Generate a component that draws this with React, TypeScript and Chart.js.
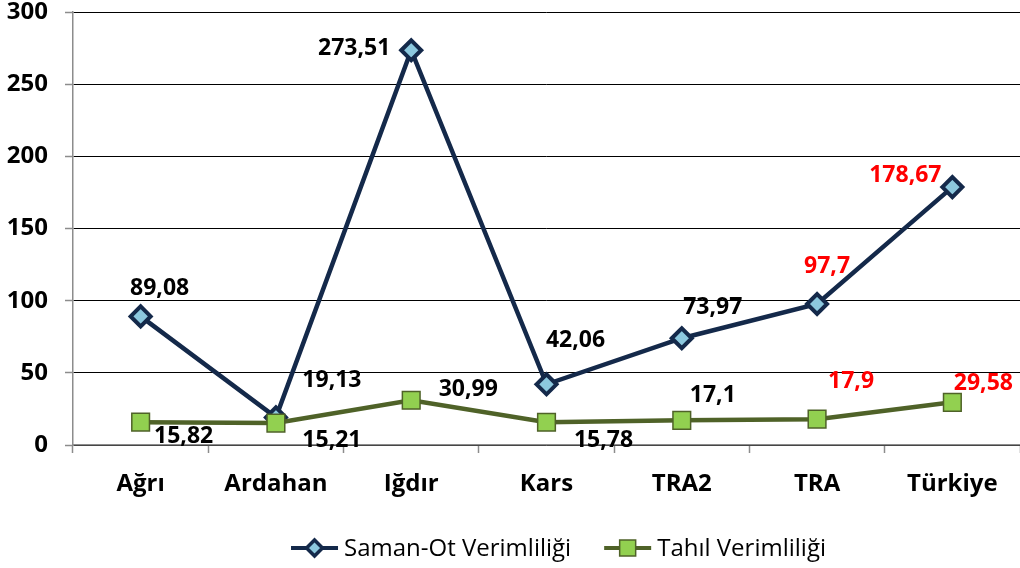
import React, { useEffect, useRef } from "react";
import { Chart, registerables } from "chart.js";

Chart.register(...registerables);

const categories = ["Ağrı", "Ardahan", "Iğdır", "Kars", "TRA2", "TRA", "Türkiye"];
const samanOt = [89.08, 19.13, 273.51, 42.06, 73.97, 97.7, 178.67];
const tahil = [15.82, 15.21, 30.99, 15.78, 17.1, 17.9, 29.58];
const seriesNames = ["Saman-Ot Verimliliği", "Tahıl Verimliliği"];
const redLabel = [false, false, false, false, false, true, true];

// label placement (offset from point, px)
const samanOffsets: [number, number][] = [
  [19, -28], [56, -37], [-57, -2], [29, -44], [31, -31], [10, -38], [-47, -12],
];
const tahilOffsets: [number, number][] = [
  [43, 14], [56, 17], [57, -11], [57, 18], [31, -25], [34, -38], [31, -19],
];

const FONT = '"Open Sans", "DejaVu Sans", sans-serif';
const NAVY = "#14294A";
const NAVY_FILL = "#8CC8DE";
const OLIVE = "#4F6228";
const GREEN = "#92D050";
const AXIS_GRAY = "#8C8C8C";

const fmt = (v: number) => String(v).replace(".", ",");

const labelPlugin = {
  id: "valueLabels",
  afterDatasetsDraw(chart: any) {
    const ctx = chart.ctx;
    ctx.save();
    ctx.font = `bold 23px ${FONT}`;
    ctx.textAlign = "center";
    ctx.textBaseline = "middle";
    chart.data.datasets.forEach((ds: any, di: number) => {
      const meta = chart.getDatasetMeta(di);
      const offs = di === 0 ? samanOffsets : tahilOffsets;
      meta.data.forEach((pt: any, i: number) => {
        ctx.fillStyle = redLabel[i] ? "#FF0000" : "#000000";
        ctx.fillText(fmt(ds.data[i]), pt.x + offs[i][0], pt.y + offs[i][1]);
      });
    });
    ctx.restore();
  },
};

function drawMarker(ctx: CanvasRenderingContext2D, kind: number, cx: number, cy: number) {
  if (kind === 0) {
    const r = 8;
    ctx.beginPath();
    ctx.moveTo(cx, cy - r);
    ctx.lineTo(cx + r, cy);
    ctx.lineTo(cx, cy + r);
    ctx.lineTo(cx - r, cy);
    ctx.closePath();
    ctx.fillStyle = NAVY_FILL;
    ctx.fill();
    ctx.lineWidth = 3.5;
    ctx.strokeStyle = NAVY;
    ctx.stroke();
  } else {
    const s = 16;
    ctx.fillStyle = GREEN;
    ctx.fillRect(cx - s / 2, cy - s / 2, s, s);
    ctx.lineWidth = 1.5;
    ctx.strokeStyle = OLIVE;
    ctx.strokeRect(cx - s / 2, cy - s / 2, s, s);
  }
}

const legendPlugin = {
  id: "customLegend",
  afterDraw(chart: any) {
    const ctx = chart.ctx;
    const area = chart.chartArea;
    ctx.save();
    ctx.font = `24px ${FONT}`;
    ctx.textBaseline = "middle";
    ctx.textAlign = "left";
    const markerW = 47;
    const gapText = 6;
    const gapItem = 33;
    const widths = seriesNames.map((n) => markerW + gapText + ctx.measureText(n).width);
    const total = widths.reduce((a, b) => a + b, 0) + gapItem;
    let x = (area.left + area.right) / 2 + 12 - total / 2;
    const y = 548;
    seriesNames.forEach((name, i) => {
      ctx.beginPath();
      ctx.moveTo(x, y);
      ctx.lineTo(x + markerW, y);
      ctx.lineWidth = 4;
      ctx.strokeStyle = i === 0 ? NAVY : OLIVE;
      ctx.stroke();
      drawMarker(ctx, i, x + markerW / 2, y);
      ctx.fillStyle = "#000";
      ctx.fillText(name, x + markerW + gapText, y + 1);
      x += widths[i] + gapItem;
    });
    ctx.restore();
  },
};

export default function App() {
  const ref = useRef<HTMLCanvasElement | null>(null);

  useEffect(() => {
    if (!ref.current) return;
    const chart = new Chart(ref.current, {
      type: "line",
      data: {
        labels: categories,
        datasets: [
          {
            label: seriesNames[0],
            data: samanOt,
            borderColor: NAVY,
            borderWidth: 4.5,
            pointStyle: "rectRot",
            pointRadius: 10,
            pointBorderWidth: 4,
            pointBackgroundColor: NAVY_FILL,
            pointBorderColor: NAVY,
            tension: 0,
            order: 2,
            clip: false,
          },
          {
            label: seriesNames[1],
            data: tahil,
            borderColor: OLIVE,
            borderWidth: 4.5,
            pointStyle: "rect",
            pointRadius: 12.5,
            pointBorderWidth: 1.5,
            pointBackgroundColor: GREEN,
            pointBorderColor: OLIVE,
            tension: 0,
            order: 1,
            clip: false,
          },
        ],
      },
      options: {
        responsive: false,
        animation: false,
        layout: { autoPadding: false, padding: { top: 12, left: 0, right: 0, bottom: 0 } },
        plugins: {
          legend: { display: false },
          tooltip: { enabled: false },
        },
        scales: {
          x: {
            offset: true,
            afterFit: (s: any) => {
              s.height = 123;
              s.paddingLeft = 0;
              s.paddingRight = 0;
            },
            grid: {
              drawOnChartArea: false,
              offset: true,
              tickColor: AXIS_GRAY,
              tickLength: 8,
              tickWidth: 1.5,
            },
            border: { color: AXIS_GRAY, width: 1.5 },
            ticks: {
              color: "#000",
              font: { family: FONT, size: 24, weight: "bold" },
              padding: 17,
              maxRotation: 0,
            },
          },
          y: {
            min: 0,
            max: 300,
            afterFit: (s: any) => {
              s.width = 73;
              s.paddingTop = 0;
              s.paddingBottom = 0;
            },
            grid: {
              color: "#000",
              lineWidth: 1,
              tickColor: AXIS_GRAY,
              tickLength: 8,
              tickWidth: 1.5,
            },
            border: { color: AXIS_GRAY, width: 1.5 },
            ticks: {
              stepSize: 50,
              color: "#000",
              font: { family: FONT, size: 24, weight: "bold" },
              padding: 17,
            },
          },
        },
      },
      plugins: [labelPlugin, legendPlugin],
    } as any);
    return () => chart.destroy();
  }, []);

  return (
    <div style={{ position: "absolute", left: 0, top: 0, width: 1020, height: 568, background: "#fff" }}>
      <canvas ref={ref} width={1020} height={568} style={{ display: "block" }} />
    </div>
  );
}
